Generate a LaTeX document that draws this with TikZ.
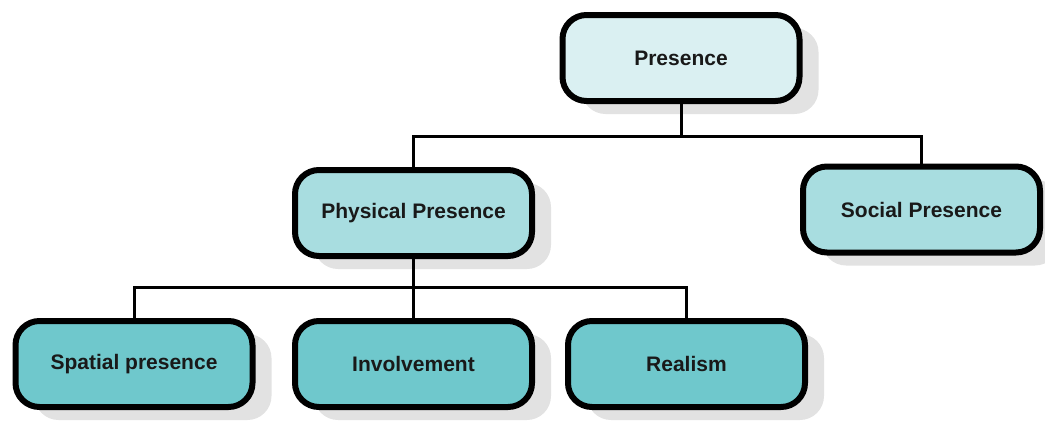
\documentclass[tikz,border=0pt]{standalone}
\usepackage{fontspec}
\setmainfont{Liberation Sans}
\usetikzlibrary{shadows}
\definecolor{topfill}{HTML}{DAF0F2}
\definecolor{midfill}{HTML}{A8DDE0}
\definecolor{lowfill}{HTML}{6FC8CC}
\definecolor{shadowgray}{HTML}{E2E2E2}
\tikzset{
  box/.style={draw=black, line width=6pt, rounded corners=24pt,
    minimum width=237pt, minimum height=86pt,
    font=\bfseries\fontsize{21}{24}\selectfont, text=black!90,
    drop shadow={shadow xshift=19pt, shadow yshift=-13pt, fill=shadowgray, opacity=1}},
  link/.style={draw=black, line width=3pt}
}
\begin{document}
\begin{tikzpicture}[x=1pt,y=-1pt]
\useasboundingbox (0,0) rectangle (1045,421);
\node[box, fill=topfill] (pres) at (681,58) {Presence};
\node[box, fill=midfill] (phys) at (413.5,213) {Physical Presence};
\node[box, fill=midfill] (soc) at (921.5,209.5) {Social Presence};
\node[box, fill=lowfill] (spat) at (134,364) {Spatial presence};
\node[box, fill=lowfill] (inv) at (413.5,364) {Involvement};
\node[box, fill=lowfill] (real) at (686.5,364) {Realism};
\coordinate (j1) at (681,136);
\coordinate (j2) at (413.5,287);
\draw[link] (pres.south) -- (j1);
\draw[link] (phys.north) |- (j1) -| (soc.north);
\draw[link] (phys.south) -- (j2);
\draw[link] (spat.north) |- (j2) -| (real.north);
\draw[link] (j2) -- (inv.north);
\end{tikzpicture}
\end{document}
